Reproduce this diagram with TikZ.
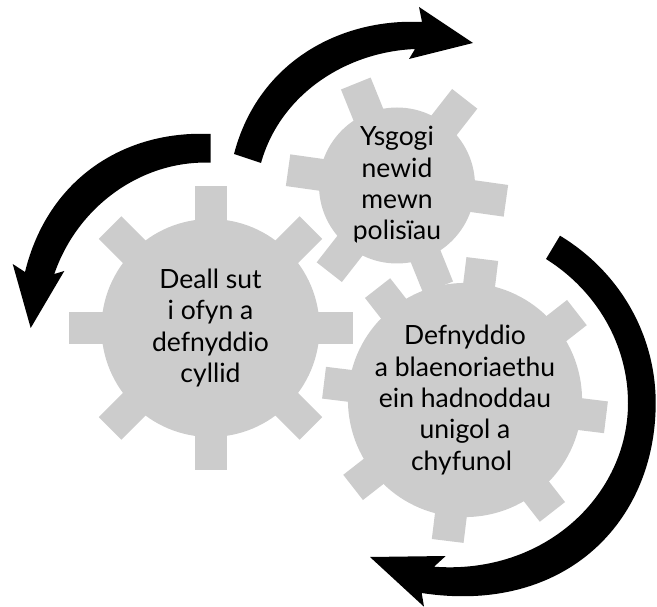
\documentclass[tikz,border=0pt]{standalone}
\usepackage{fontspec}
\setmainfont{Lato}
\definecolor{gearfill}{HTML}{CCCCCC}
\tikzset{
	gearbody/.style={fill=gearfill, shape=circle, inner sep=0pt, align=center, text=black, font=\fontsize{26.5}{31.3}\selectfont},
	geartooth/.style={draw=gearfill, line width=32pt},
	bigarrow/.style={fill=black, draw=none}
}
\begin{document}
\begin{tikzpicture}[x=1pt, y=-1pt]
	\useasboundingbox (0,0) rectangle (657,607);

	\node[gearbody, minimum size=218pt] (g_cyllid) at (210.5,328) {Deall sut\\i ofyn a\hspace*{6pt}\\defnyddio\\cyllid};
	\node[gearbody, minimum size=156pt] (g_newid) at (397,185.5) {Ysgogi\\newid\\mewn\\polisïau};
	\node[gearbody, minimum size=220pt] (g_adnodd) at (465,400) {Defnyddio\\a blaenoriaethu\\ein hadnoddau\hspace*{7pt}\\unigol a\hspace*{7pt}\\chyfunol\hspace*{7pt}};

	\foreach \a in {0,45,...,315}
		\draw[geartooth] (g_cyllid.center) ++(\a:100) -- ++(\a:42);
	\foreach \a in {8,68,...,308}
		\draw[geartooth] (g_newid.center) ++(\a:70) -- ++(\a:40);
	\foreach \a in {7,52,...,322}
		\draw[geartooth] (g_adnodd.center) ++(\a:100) -- ++(\a:42);

	% top arrow
	\fill[bigarrow] (234,154) .. controls (258,62) and (340,18) .. (422,22) -- (419,7) -- (473,43) -- (409,59) -- (415,49)
		.. controls (345,52) and (280,95) .. (261,163) -- cycle;
	% left arrow
	\fill[bigarrow] (210.7,134) .. controls (125,130) and (48,178) .. (25,272) -- (12.7,264) -- (30.7,328) -- (64.3,271) -- (54.3,274)
		.. controls (78,205) and (143,160) .. (210.7,162.7) -- cycle;
	% right arrow
	\fill[bigarrow] (560,235.7) .. controls (620,272) and (655.7,335) .. (655.7,403)
		.. controls (655.7,522) and (565,615) .. (421.7,593) -- (424,606.7) -- (370,557) -- (445.7,556) -- (434,566.7)
		.. controls (545,575) and (628,495) .. (628,403)
		.. controls (628,345) and (597,291) .. (546,259) -- cycle;
\end{tikzpicture}
\end{document}
